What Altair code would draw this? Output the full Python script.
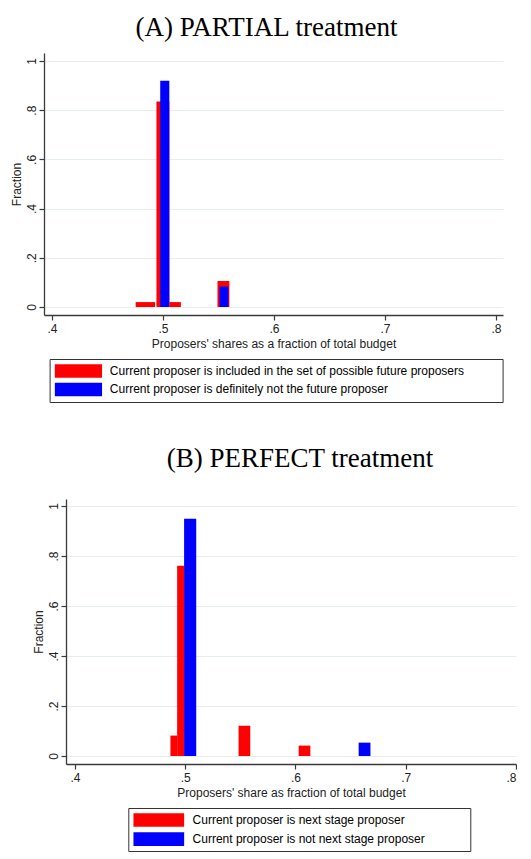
import altair as alt
import pandas as pd

# ---------------- data ----------------
TITLE_A = "(A) PARTIAL treatment"
TITLE_B = "(B) PERFECT treatment"
X_TITLE_A = "Proposers' shares as a fraction of total budget"
X_TITLE_B = "Proposers' share as fraction of total budget"
Y_TITLE = "Fraction"

a_series = ["Current proposer is included in the set of possible future proposers",
            "Current proposer is definitely not the future proposer"]
a_group = [0, 0, 0, 0, 1, 1]
a_start = [0.4754, 0.4941, 0.5057, 0.5491, 0.4975, 0.5509]
a_end = [0.4929, 0.5057, 0.5161, 0.5598, 0.5057, 0.5589]
a_frac = [0.020, 0.835, 0.020, 0.1055, 0.920, 0.083]

b_series = ["Current proposer is next stage proposer",
            "Current proposer is not next stage proposer"]
b_group = [0, 0, 0, 0, 1, 1]
b_start = [0.4866, 0.4927, 0.5484, 0.6029, 0.4990, 0.6573]
b_end = [0.4927, 0.4990, 0.5590, 0.6135, 0.5100, 0.6680]
b_frac = [0.0817, 0.761, 0.121, 0.0416, 0.949, 0.0534]

x_ticks = [0.4, 0.5, 0.6, 0.7, 0.8]
x_tick_labels = [".4", ".5", ".6", ".7", ".8"]
y_ticks = [0, 0.2, 0.4, 0.6, 0.8, 1]
y_tick_labels = ["0", ".2", ".4", ".6", ".8", "1"]
colors = ["#FF0000", "#0000FF"]

FONT = "Liberation Sans"
SERIF = "Liberation Serif"
INK = "#222222"


def label_expr(vals, labels):
    expr = "''"
    for v, l in reversed(list(zip(vals, labels))):
        expr = f"datum.value == {v} ? '{l}' : ({expr})"
    return expr


def panel(series, group, start, end, frac, xdom, ydom, w, h, xtitle, title,
          title_offset, title_dx, leg_x, leg_y, sym_h, sym_w, lab_gap, row_pad, pad_tail):
    df = pd.DataFrame({
        "series": [series[g] for g in group],
        "x0": start, "x1": end, "frac": frac,
    })
    units = sym_w / (sym_h / 2.0)  # width in path units
    path = f"M-1,-1H{units - 1:.3f}V1H-1Z"
    tail = "\u00a0" * pad_tail + "\u200b"
    return alt.Chart(df).mark_rect(strokeWidth=0).encode(
        x=alt.X("x0:Q",
                scale=alt.Scale(domain=xdom, nice=False, zero=False),
                axis=alt.Axis(title=xtitle, values=x_ticks,
                              labelExpr=label_expr(x_ticks, x_tick_labels),
                              grid=False, tickSize=5, labelPadding=3, titlePadding=4)),
        x2="x1:Q",
        y=alt.Y("frac:Q",
                scale=alt.Scale(domain=ydom, nice=False, zero=False),
                axis=alt.Axis(title=Y_TITLE, values=y_ticks,
                              labelExpr=label_expr(y_ticks, y_tick_labels),
                              grid=True, tickSize=5, labelAngle=270,
                              labelAlign="center", labelBaseline="alphabetic",
                              labelPadding=4, titlePadding=2)),
        y2=alt.datum(0),
        color=alt.Color("series:N",
                        scale=alt.Scale(domain=series, range=colors),
                        legend=alt.Legend(
                            title=None, orient="none", legendX=leg_x, legendY=leg_y,
                            direction="vertical",
                            symbolType=path, symbolSize=sym_h * sym_h,
                            symbolStrokeWidth=0, symbolOpacity=1,
                            labelOffset=sym_w + lab_gap - sym_h,
                            labelFont=FONT, labelFontSize=12, labelColor="black",
                            labelLimit=800,
                            labelExpr=f"datum.label + '{tail}'",
                            padding=5, rowPadding=row_pad,
                            strokeColor="#333333", fillColor="white")),
    ).properties(
        width=w, height=h,
        title=alt.TitleParams(text=title, font=SERIF, fontSize=27, fontWeight="normal",
                              color="black", anchor="middle", baseline="top",
                              offset=title_offset, dx=title_dx),
    )


def spacer(width):
    return alt.Chart(pd.DataFrame({"s": [0]})).mark_point(opacity=0, size=0).encode(
        x=alt.X("s:Q", axis=None, scale=alt.Scale(domain=[0, 1])),
        y=alt.Y("s:Q", axis=None, scale=alt.Scale(domain=[0, 1])),
    ).properties(width=width, height=1)


chart_a = panel(a_series, a_group, a_start, a_end, a_frac,
                [0.3928, 0.8063], [-0.0325, 1.0325], 459, 262,
                X_TITLE_A, TITLE_A, 11, -7, 5.6, 306, 13.5, 47.2, 7.5, 4.4, 10)

chart_b = panel(b_series, b_group, b_start, b_end, b_frac,
                [0.3919, 0.8000], [-0.032, 1.028], 450, 265,
                X_TITLE_B, TITLE_B, 26, 9, 62.3, 309.0, 13.7, 50.7, 8.3, 5.1, 12)

row_a = alt.hconcat(spacer(1), chart_a, spacing=0).resolve_scale(
    color="independent").resolve_legend(color="independent")
row_b = alt.hconcat(spacer(24), chart_b, spacing=0).resolve_scale(
    color="independent").resolve_legend(color="independent")

chart = alt.vconcat(
    row_a,
    row_b,
    spacing=42,
).resolve_scale(
    color="independent", x="independent", y="independent"
).resolve_legend(
    color="independent"
).configure(
    padding={"left": 0, "top": 6, "right": 0, "bottom": 0},
    background="white",
).configure_concat(
    spacing=0,
).configure_view(
    strokeWidth=0,
).configure_axis(
    labelFont=FONT, labelFontSize=12, labelColor=INK,
    titleFont=FONT, titleFontSize=12, titleFontWeight="normal", titleColor=INK,
    domainColor="#3a3a3a", domainWidth=1.3, tickColor="#3a3a3a", tickWidth=1.2,
    gridColor="#E6EEF0", gridWidth=1,
)

chart.save("out.html", embed_options={"renderer": "svg", "actions": False})
